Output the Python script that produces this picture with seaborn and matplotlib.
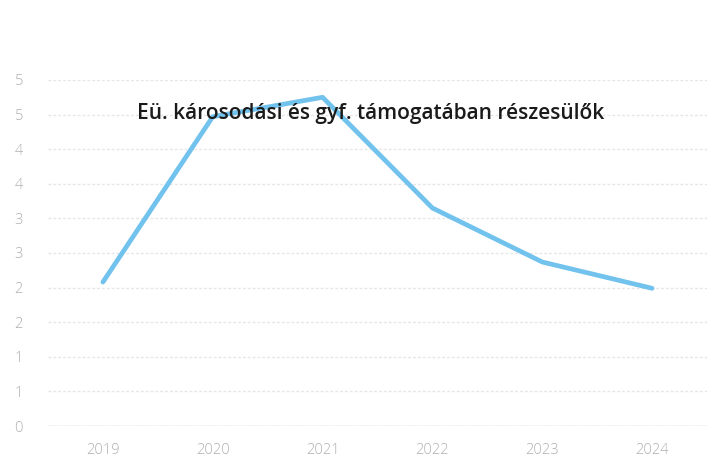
import matplotlib
matplotlib.use("Agg")
import matplotlib.pyplot as plt
import numpy as np
import pandas as pd
import seaborn as sns
from matplotlib.ticker import FuncFormatter, MultipleLocator

line_color = "#72C2EE"
grid_color = "#e6e6e6"
label_color = "#b0b0b0"

years = ["2019", "2020", "2021", "2022", "2023", "2024"]
values = [2.08, 4.47, 4.75, 3.15, 2.37, 1.99]
title = "Eü. károsodási és gyf. támogatában részesülők"

df = pd.DataFrame({"year": years, "value": values})

sns.set_theme(style="white")
plt.rcParams['font.family'] = ['Open Sans', 'DejaVu Sans']

fig = plt.figure(figsize=(7.18, 4.69), dpi=100)
ax = fig.add_axes([48 / 718, 43 / 469, 659 / 718, 346 / 469])

sns.lineplot(x="year", y="value", data=df, ax=ax, color=line_color, lw=3.4,
             solid_joinstyle="round", solid_capstyle="round", sort=False, zorder=3)

ax.set_xlim(-0.5, len(years) - 0.5)
ax.set_ylim(0, 5)
ax.yaxis.set_major_locator(MultipleLocator(0.5))
# excel style rounding of the tick labels (0.5 -> 1)
ax.yaxis.set_major_formatter(FuncFormatter(lambda v, p: str(int(np.floor(v + 0.5)))))
ax.grid(axis="y", color=grid_color, lw=1.0, linestyle=(0, (2, 1.5)), zorder=0)
ax.grid(axis="x", visible=False)
for s in ax.spines.values():
    s.set_visible(False)
ax.axhline(0, color="#d8d8d8", lw=1.0, zorder=1)

ax.set_xlabel("")
ax.set_ylabel("")
ax.tick_params(axis="both", length=0, labelsize=10.5, labelcolor=label_color)
ax.tick_params(axis="y", pad=18)
ax.tick_params(axis="x", pad=12)
for t in ax.get_xticklabels() + ax.get_yticklabels():
    t.set_fontweight("light")

fig.text(0.516, 1 - 113 / 469, title, ha="center", va="center", fontsize=15,
         fontweight="semibold", color="#1a1a1a", zorder=5)

fig.savefig("out.png", dpi=100, facecolor="white")
